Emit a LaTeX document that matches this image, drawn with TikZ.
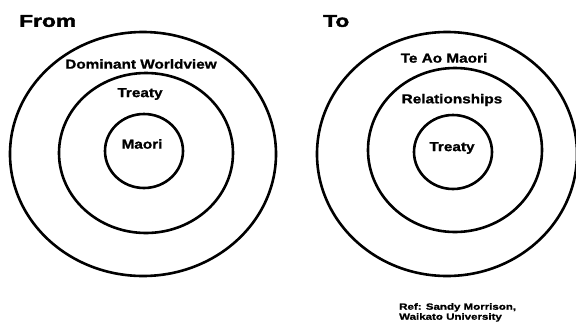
\documentclass[tikz,border=0pt]{standalone}
\usepackage{fontspec}
\usetikzlibrary{shapes.geometric}
\setmainfont{Liberation Sans}
\newfontfamily\labfont{Liberation Sans}[FakeStretch=1.18,FakeBold=1]
\newfontfamily\headfont{Liberation Sans}[FakeStretch=1.34,FakeBold=2.5]
\newfontfamily\reffont{Liberation Sans}[FakeStretch=1.28,FakeBold=1]
\tikzset{
  ring/.style={draw=black, line width=2.6pt, ellipse, inner sep=0pt},
  lab/.style={inner sep=0pt, font=\labfont\bfseries\fontsize{13}{15}\selectfont},
  head/.style={inner sep=0pt, font=\headfont\bfseries\fontsize{17}{20}\selectfont},
  reftext/.style={inner sep=0pt, align=left, font=\reffont\bfseries\fontsize{9}{10}\selectfont},
}
\begin{document}
\begin{tikzpicture}[x=1pt,y=-1pt]
\useasboundingbox[fill=white] (0,0) rectangle (576,325);
% left set
\node[ring, minimum width=266pt, minimum height=244pt] (lo) at (143,154) {};
\node[ring, minimum width=174pt, minimum height=160pt] (lm) at (146,153) {};
\node[ring, minimum width=78pt, minimum height=74pt] (li) at (144,151) {};
\node[head, anchor=west] (from) at (19,21) {From};
\node[lab] (ldom) at (141,64) {Dominant Worldview};
\node[lab] (ltr) at (140,94) {Treaty};
\node[lab] (lma) at (142,144) {Maori};
% right set
\node[ring, minimum width=260pt, minimum height=244pt] (ro) at (447,154) {};
\node[ring, minimum width=174pt, minimum height=164pt] (rm) at (455,150) {};
\node[ring, minimum width=78pt, minimum height=74pt] (ri) at (453,152) {};
\node[head, anchor=west] (to) at (323,21) {To};
\node[lab] (rte) at (444,58) {Te Ao Maori};
\node[lab] (rrel) at (452,100) {Relationships};
\node[lab] (rtr) at (452,148) {Treaty};
\node[reftext, anchor=north west] (ref) at (399,303) {Ref: Sandy Morrison,\\Waikato University};
\end{tikzpicture}
\end{document}
